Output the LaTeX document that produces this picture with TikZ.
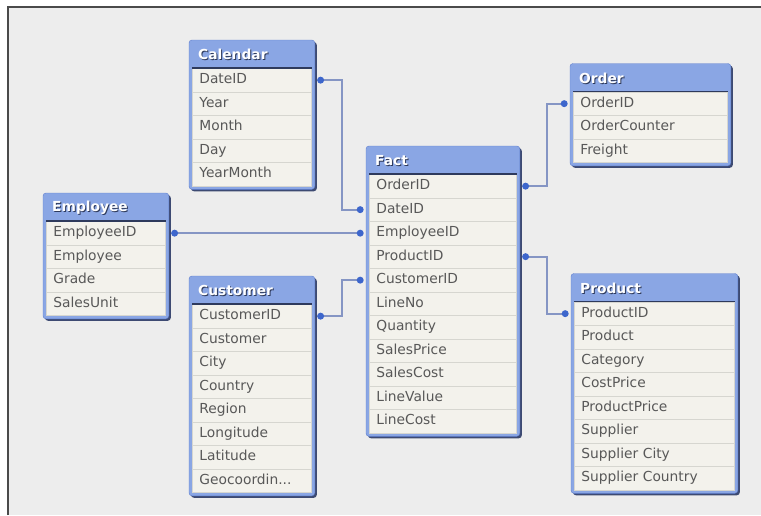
\documentclass[tikz,border=0pt]{standalone}
\usepackage{fontspec}
\setmainfont{DejaVu Sans}
\usetikzlibrary{positioning, arrows.meta, matrix, fit, backgrounds, shadows}

\definecolor{canvas}{HTML}{EDEDED}
\definecolor{edge}{HTML}{4A4A4A}
\definecolor{titlebar}{HTML}{8AA6E4}
\definecolor{framedge}{HTML}{5F7FCF}
\definecolor{framedark}{HTML}{3D4A72}
\definecolor{rowfill}{HTML}{F3F2EC}
\definecolor{rowline}{HTML}{D6D6D0}
\definecolor{rowtext}{HTML}{585858}
\definecolor{titleshade}{HTML}{2E3A5C}
\definecolor{linkline}{HTML}{8595C4}
\definecolor{linkdot}{HTML}{3D66CC}

\newcommand{\headtext}[1]{\makebox[0pt][l]{\hspace{1pt}\raisebox{-1pt}{\textcolor{titleshade}{#1}}}\textcolor{white}{#1}}

\begin{document}
\begin{tikzpicture}[
    x=1pt, y=-1pt,
    font=\fontsize{13.8}{16}\selectfont,
    tbltitle/.style={anchor=north west, inner xsep=9pt, inner ysep=0pt, minimum height=30pt, font=\fontsize{13.8}{16}\selectfont\bfseries},
    rows/.style={matrix of nodes, anchor=north west, inner sep=0pt, row sep=-0.4pt, nodes={cell, text width=#1}},
    cell/.style={draw=rowline, fill=rowfill, text=rowtext, align=left, inner xsep=7pt, inner ysep=5pt, text height=10.5pt, text depth=3pt},
    frame/.style={draw=framedge, fill=titlebar, rounded corners=3pt, inner sep=0pt,
        drop shadow={shadow xshift=2pt, shadow yshift=-2pt, fill=framedark, opacity=1}},
    topline/.style={draw=titleshade, line width=1.5pt},
    link/.style={draw=linkline, line width=2pt},
    keydot/.style={circle, fill=linkdot, inner sep=0pt, minimum size=7pt}
]
\useasboundingbox (0,0) rectangle (761,515);

% Calendar
\node[tbltitle] (calt) at (189,40) {\headtext{Calendar}};
\matrix[rows=105pt] (calm) at (192,68) {
    DateID \\ Year \\ Month \\ Day \\ YearMonth \\
};

% Employee
\node[tbltitle] (empt) at (43,193) {\headtext{Employee}};
\matrix[rows=105pt] (empm) at (46,221) {
    EmployeeID \\ Employee \\ Grade \\ SalesUnit \\
};

% Customer
\node[tbltitle] (cust) at (189,276) {\headtext{Customer}};
\matrix[rows=105pt] (custm) at (192,304) {
    CustomerID \\ Customer \\ City \\ Country \\ Region \\ Longitude \\ Latitude \\ Geocoordin... \\
};

% Fact
\node[tbltitle] (factt) at (366,146) {\headtext{Fact}};
\matrix[rows=133pt] (factm) at (369,174) {
    OrderID \\ DateID \\ EmployeeID \\ ProductID \\ CustomerID \\ LineNo \\ Quantity \\ SalesPrice \\ SalesCost \\ LineValue \\ LineCost \\
};

% Order
\node[tbltitle] (ordt) at (570,63.5) {\headtext{Order}};
\matrix[rows=140pt] (ordm) at (573,91.5) {
    OrderID \\ OrderCounter \\ Freight \\
};

% Product
\node[tbltitle] (prodt) at (571,273.5) {\headtext{Product}};
\matrix[rows=146pt] (prodm) at (574,301.5) {
    ProductID \\ Product \\ Category \\ CostPrice \\ ProductPrice \\ Supplier \\ Supplier City \\ Supplier Country \\
};

% Frame corners
\coordinate (calc) at ([xshift=3pt,yshift=-3pt]calm.south east);
\coordinate (empc) at ([xshift=3pt,yshift=-3pt]empm.south east);
\coordinate (cusc) at ([xshift=3pt,yshift=-3pt]custm.south east);
\coordinate (factc) at ([xshift=3pt,yshift=-3pt]factm.south east);
\coordinate (ordc) at ([xshift=3pt,yshift=-3pt]ordm.south east);
\coordinate (prodc) at ([xshift=3pt,yshift=-3pt]prodm.south east);

% Canvas and table frames
\begin{scope}[on background layer]
    \fill[white] (0,0) rectangle (761,515);
    \fill[canvas] (8,7) rectangle (761,515);
    \draw[edge, line width=2pt] (8,515) -- (8,7) -- (761,7);
    \node[frame, fit=(calt.north west)(calc)] {};
    \node[frame, fit=(empt.north west)(empc)] {};
    \node[frame, fit=(cust.north west)(cusc)] {};
    \node[frame, fit=(factt.north west)(factc)] {};
    \node[frame, fit=(ordt.north west)(ordc)] {};
    \node[frame, fit=(prodt.north west)(prodc)] {};
\end{scope}

% Dark line under each title
\draw[topline] (calm.north west) -- (calm.north east);
\draw[topline] (empm.north west) -- (empm.north east);
\draw[topline] (custm.north west) -- (custm.north east);
\draw[topline] (factm.north west) -- (factm.north east);
\draw[topline] (ordm.north west) -- (ordm.north east);
\draw[topline] (prodm.north west) -- (prodm.north east);

% Keys
\draw[link] ([xshift=9pt]calm-1-1.east) node[keydot] {} -- ++(21,0) |- ([xshift=-9pt]factm-2-1.west) node[keydot] {};
\draw[link] ([xshift=9pt]empm-1-1.east) node[keydot] {} -- ([xshift=-9pt]factm-3-1.west) node[keydot] {};
\draw[link] ([xshift=9pt]custm-1-1.east) node[keydot] {} -- ++(21,0) |- ([xshift=-9pt]factm-5-1.west) node[keydot] {};
\draw[link] ([xshift=9pt]factm-1-1.east) node[keydot] {} -- ++(21,0) |- ([xshift=-9pt]ordm-1-1.west) node[keydot] {};
\draw[link] ([xshift=9pt]factm-4-1.east) node[keydot] {} -- ++(21,0) |- ([xshift=-9pt]prodm-1-1.west) node[keydot] {};

\end{tikzpicture}
\end{document}
